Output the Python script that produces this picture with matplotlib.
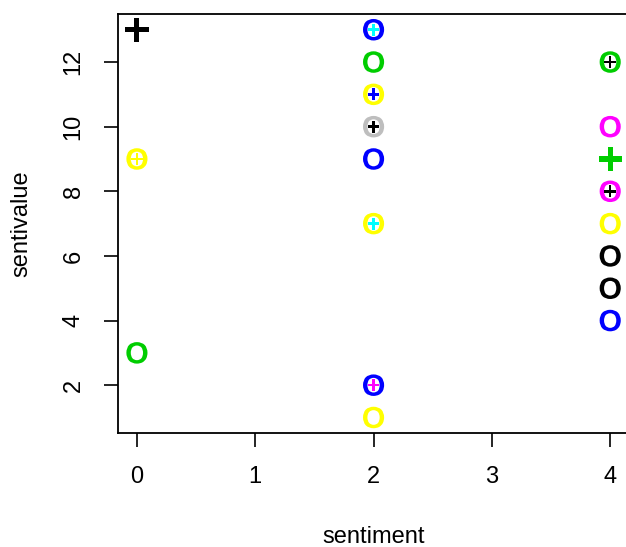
import matplotlib
matplotlib.use('Agg')

import matplotlib.pyplot as plt

plt.rcParams['font.family'] = ['Liberation Sans', 'DejaVu Sans']
plt.rcParams['mathtext.fontset'] = 'custom'
plt.rcParams['mathtext.rm'] = 'Liberation Sans:bold'

# "O" symbols: position and colour
o_x = [0, 0, 2, 2, 2, 2, 2, 2, 2, 2, 4, 4, 4, 4, 4, 4, 4]
o_y = [9, 3, 13, 12, 11, 10, 9, 7, 2, 1, 12, 10, 8, 7, 6, 5, 4]
o_col = ['yellow', '#00cd00', 'blue', '#00cd00', 'yellow', '#bebebe', 'blue', 'yellow',
         'blue', 'yellow', '#00cd00', 'magenta', 'magenta', 'yellow', 'black', 'black', 'blue']

# small "+" drawn inside an "O"
in_x = [0, 2, 2, 2, 2, 2, 4, 4]
in_y = [9, 13, 11, 10, 7, 2, 12, 8]
in_col = ['yellow', 'cyan', 'blue', 'black', 'cyan', 'magenta', 'black', 'black']

# big "+" symbols on their own
big_x = [0, 4]
big_y = [13, 9]
big_col = ['black', '#00cd00']

fig = plt.figure(figsize=(6.26, 5.47), dpi=100)
ax = fig.add_axes([0.1885, 0.2084, 0.8165, 0.7656])

# glyph markers are centred on their own outline
ax.scatter(o_x, o_y, marker=r'$\mathrm{O}$', s=15.5**2, c=o_col, linewidths=0, clip_on=False)
ax.scatter(in_x, in_y, marker=r'$\mathrm{+}$', s=8.5**2, c=in_col, linewidths=0, clip_on=False)
ax.scatter(big_x, big_y, marker=r'$\mathrm{+}$', s=17**2, c=big_col, linewidths=0, clip_on=False)

ax.set_xlim(-0.16, 4.16)
ax.set_ylim(0.52, 13.48)
ax.set_xticks([0, 1, 2, 3, 4])
ax.set_yticks([2, 4, 6, 8, 10, 12])
ax.tick_params(axis='both', length=10, width=1.2, pad=14, labelsize=17)
for lab in ax.get_yticklabels():
    lab.set_rotation(90)
    lab.set_va('center')
for s in ax.spines.values():
    s.set_linewidth(1.3)

ax.set_xlabel('sentiment', fontsize=17, labelpad=27)
ax.set_ylabel('sentivalue', fontsize=17, labelpad=22)

plt.savefig('out.png', dpi=100)
plt.close(fig)
